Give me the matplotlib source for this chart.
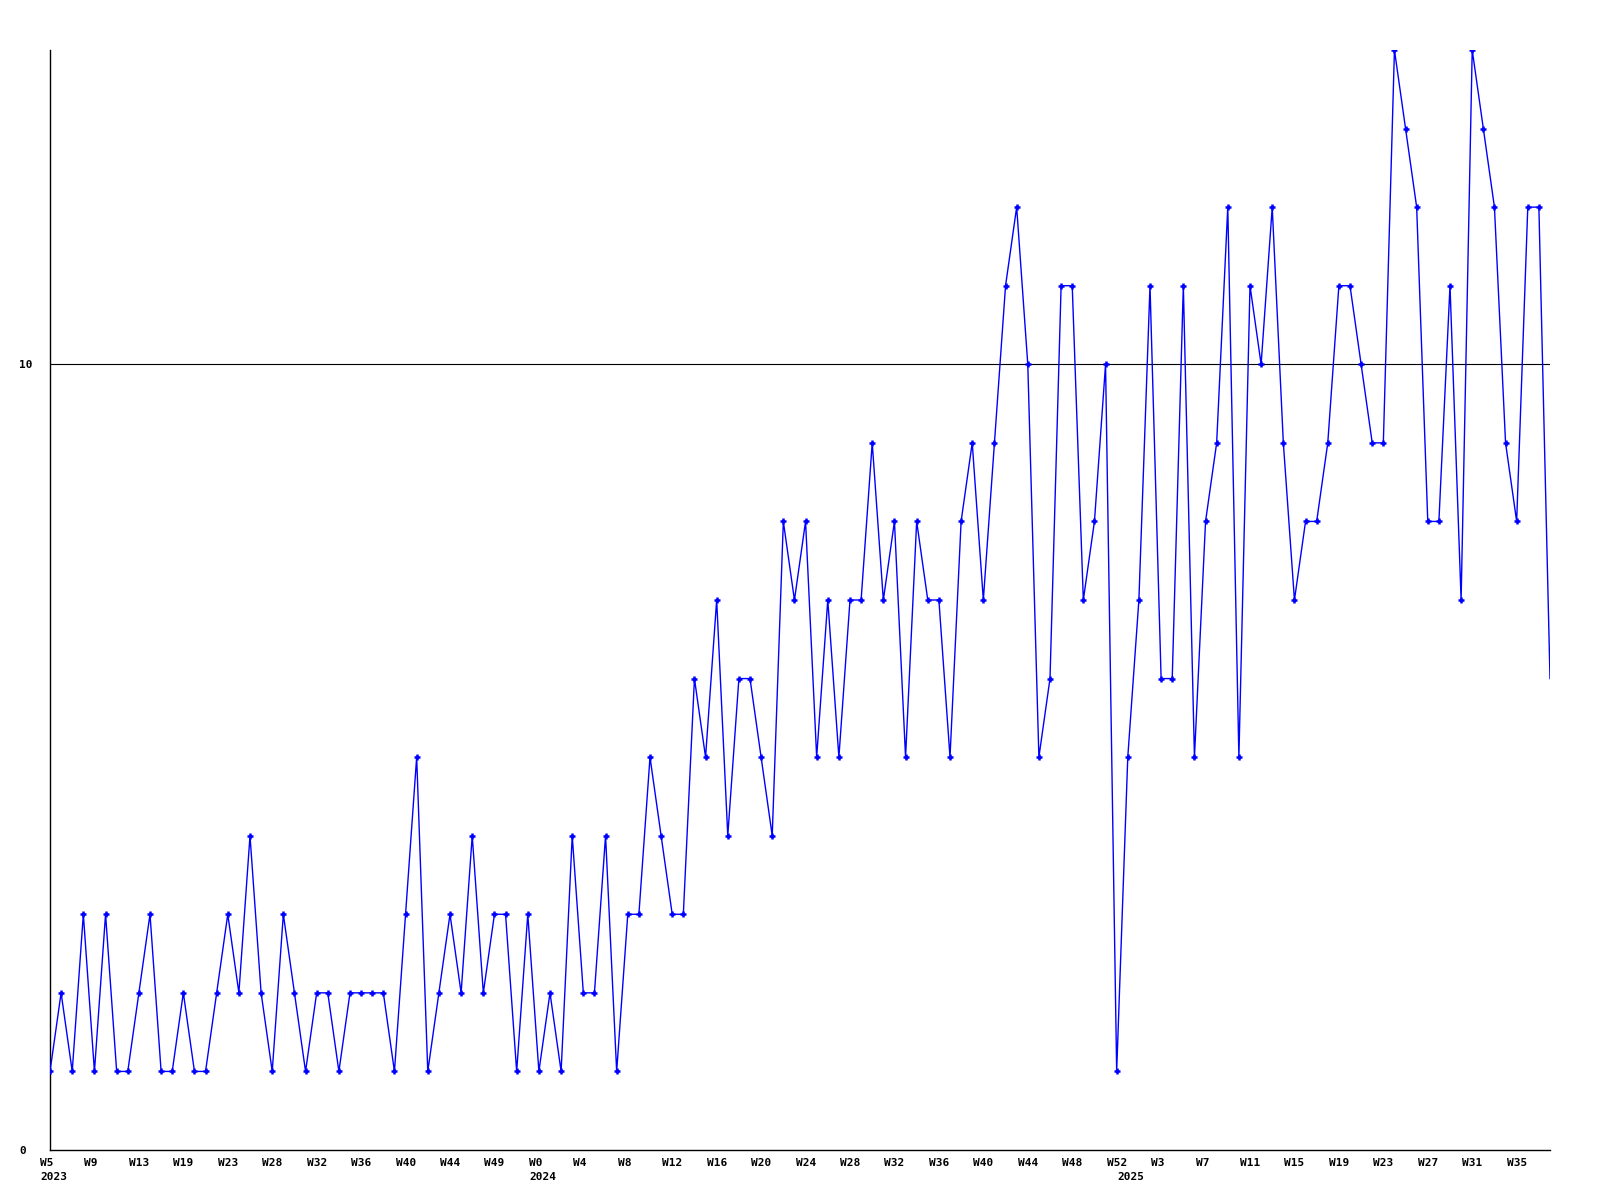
import matplotlib
matplotlib.use("Agg")
import matplotlib.pyplot as plt
import matplotlib.transforms as mtransforms
import numpy as np

# ---- data ----
values = [1, 2, 1, 3, 1, 3, 1, 1, 2, 3, 1, 1, 2, 1, 1, 2, 3, 2, 4, 2,
          1, 3, 2, 1, 2, 2, 1, 2, 2, 2, 2, 1, 3, 5, 1, 2, 3, 2, 4, 2,
          3, 3, 1, 3, 1, 2, 1, 4, 2, 2, 4, 1, 3, 3, 5, 4, 3, 3, 6, 5,
          7, 4, 6, 6, 5, 4, 8, 7, 8, 5, 7, 5, 7, 7, 9, 7, 8, 5, 8, 7,
          7, 5, 8, 9, 7, 9, 11, 12, 10, 5, 6, 11, 11, 7, 8, 10, 1, 5, 7, 11,
          6, 6, 11, 5, 8, 9, 12, 5, 11, 10, 12, 9, 7, 8, 8, 9, 11, 11, 10, 9,
          9, 14, 13, 12, 8, 8, 11, 7, 14, 13, 12, 9, 8, 12, 12, 6]
week_labels = ["W5", "W9", "W13", "W19", "W23", "W28", "W32", "W36", "W40", "W44",
               "W49", "W0", "W4", "W8", "W12", "W16", "W20", "W24", "W28", "W32",
               "W36", "W40", "W44", "W48", "W52", "W3", "W7", "W11", "W15", "W19",
               "W23", "W27", "W31", "W35"]
year_labels = ["2023", "2024", "2025"]
year_positions = [0, 44, 97]
y_ticks = [0, 10]

x = np.arange(len(values))

plt.rcParams['font.family'] = ['DejaVu Sans Mono']
plt.rcParams['font.weight'] = 'bold'

fig = plt.figure(figsize=(16, 12), dpi=100)
ax = fig.add_axes([50/1600, 1 - 1150/1200, 1500/1600, 1100/1200])

ax.plot(x, values, color=(0, 0, 1), lw=1.0, zorder=3)
ax.plot(x[:-1], values[:-1], linestyle='none', marker='+', markersize=4.5,
        markeredgewidth=1.8, color=(0, 0, 1), zorder=4)

ax.axhline(10, color='black', lw=0.8, zorder=2)

ax.set_xlim(0, len(values) - 1)
ax.set_ylim(0, 14)

for s in ['top', 'right']:
    ax.spines[s].set_visible(False)
for s in ['left', 'bottom']:
    ax.spines[s].set_color('black')
    ax.spines[s].set_linewidth(1.0)

ax.set_yticks(y_ticks)
ax.set_yticklabels([str(v) for v in y_ticks], fontsize=8, fontweight='bold')
ax.tick_params(axis='y', length=0, pad=22.3)
for lab in ax.get_yticklabels():
    lab.set_horizontalalignment('left')

tick_idx = x[::4]
ax.set_xticks(tick_idx)
ax.set_xticklabels(week_labels, fontsize=8, fontweight='bold', ha='left')
ax.tick_params(axis='x', length=0, pad=5.5)
off = mtransforms.ScaledTranslation(-10/100, 0, fig.dpi_scale_trans)
for lab in ax.get_xticklabels():
    lab.set_transform(lab.get_transform() + off)

trans = mtransforms.blended_transform_factory(ax.transData, ax.transAxes)
yoff = mtransforms.ScaledTranslation(-10/100, -22/100, fig.dpi_scale_trans)
for pos, yl in zip(year_positions, year_labels):
    ax.text(pos, 0, yl, transform=trans + yoff, ha='left', va='top',
            fontsize=8, fontweight='bold')

fig.savefig("out.png", dpi=100, facecolor='white')
